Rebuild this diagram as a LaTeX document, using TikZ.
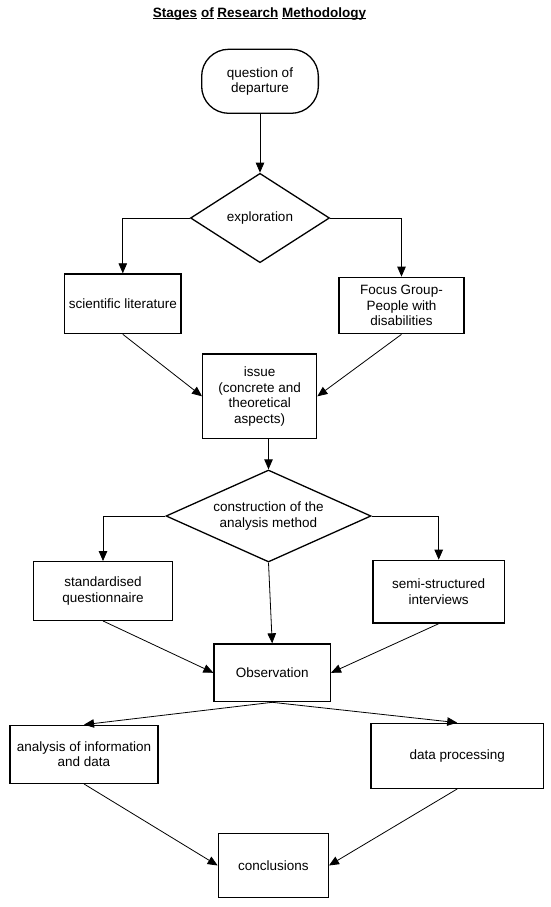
\documentclass[tikz,border=0pt]{standalone}
\usepackage{fontspec}
\setmainfont{Liberation Sans}
\usetikzlibrary{shapes.geometric,arrows.meta}
\newsavebox\myulbox
\newcommand\myul[1]{\sbox\myulbox{#1}\rlap{\rule[-1.7pt]{\wd\myulbox}{1pt}}\usebox\myulbox}
\tikzset{
  every node/.style={font=\fontsize{13.5}{15.5}\selectfont, align=center},
  box/.style={draw, line width=1.3pt, rectangle, inner sep=0pt},
  startbox/.style={draw, line width=1.3pt, rectangle, rounded corners=27pt, inner sep=0pt},
  decision/.style={draw, line width=1.3pt, diamond, inner sep=0pt, aspect=2.2},
  arr/.style={draw, line width=0.8pt, -{Triangle[length=10pt,width=8.5pt]}}
}
\begin{document}
\begin{tikzpicture}[x=1pt,y=-1pt]
\useasboundingbox (0,0) rectangle (550,907);
\node[anchor=base, font=\fontsize{13.5}{15.5}\selectfont\bfseries] (title) at (259.5,17.7)
  {\myul{Stages} \myul{of} \myul{Research} \myul{Methodology}};
\node[startbox, minimum width=116.7pt, minimum height=64pt] (q) at (260,81.3) {question of\\departure};
\node[decision, minimum width=139pt, minimum height=89.4pt] (expl) at (260,218) {exploration};
\node[box, minimum width=116.3pt, minimum height=59.7pt] (sci) at (122.8,303.8) {scientific literature};
\node[box, minimum width=125pt, minimum height=56.4pt] (focus) at (401.5,305.5) {Focus Group-\\People with\\disabilities};
\node[box, minimum width=114pt, minimum height=84.7pt] (issue) at (259.7,396.3) {issue\\(concrete and\\theoretical\\aspects)};
\node[decision, minimum width=205pt, minimum height=92pt] (cons) at (268.5,516) {construction of the\\analysis method};
\node[box, minimum width=138.6pt, minimum height=58.6pt] (std) at (103,591) {standardised\\questionnaire};
\node[box, minimum width=131.3pt, minimum height=62.7pt] (semi) at (438.7,591.7) {semi-structured\\interviews};
\node[box, minimum width=116.3pt, minimum height=57.7pt] (obs) at (272.2,672.8) {Observation};
\node[box, minimum width=148pt, minimum height=58pt] (ana) at (84,754.3) {analysis of information\\and data};
\node[box, minimum width=172.3pt, minimum height=65pt] (dp) at (457.2,755.8) {data processing};
\node[box, minimum width=110pt, minimum height=64.4pt] (conc) at (273.3,865.5) {conclusions};

\draw[arr] (q.south) -- (expl.north);
\draw[arr] (expl.west) -| (sci.north);
\draw[arr] (expl.east) -| (focus.north);
\draw[arr] (sci.south) -- (issue.west);
\draw[arr] (focus.south) -- (issue.east);
\draw[arr] (issue.south -| cons.north) -- (cons.north);
\draw[arr] (cons.west) -| (std.north);
\draw[arr] (cons.east) -| (semi.north);
\draw[arr] (cons.south) -- (obs.north);
\draw[arr] (std.south) -- (obs.west);
\draw[arr] (semi.south) -- (obs.east);
\draw[arr] (obs.south) -- (ana.north);
\draw[arr] (obs.south) -- (dp.north);
\draw[arr] (ana.south) -- (conc.west);
\draw[arr] (dp.south) -- (conc.east);
\end{tikzpicture}
\end{document}
